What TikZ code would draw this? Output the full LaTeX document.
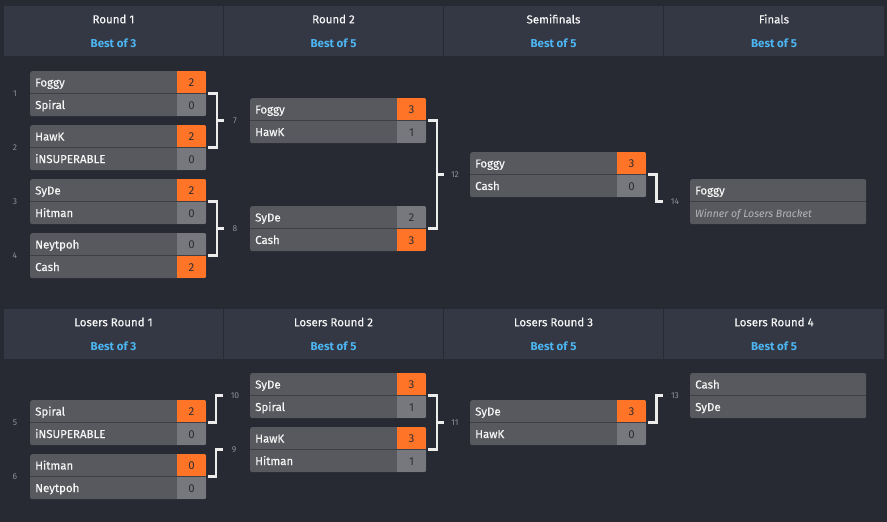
\documentclass[tikz,border=0pt]{standalone}
\usepackage{fontspec}
\setmainfont{Fira Sans}
\newfontfamily\medfont{Fira Sans}[FakeBold=0.35]
\usetikzlibrary{calc}
\definecolor{bgc}{HTML}{272A33}
\definecolor{hdrc}{HTML}{343844}
\definecolor{rowc}{HTML}{58595E}
\definecolor{scorec}{HTML}{77787D}
\definecolor{winc}{HTML}{FF7427}
\definecolor{sepc}{HTML}{3E3F45}
\definecolor{bestc}{HTML}{4DB6F2}
\definecolor{lblc}{HTML}{8D909A}
\definecolor{connc}{HTML}{ECECEC}
\definecolor{scoretxt}{HTML}{2E2E33}
\definecolor{namec}{HTML}{F6F6F6}
\definecolor{subc}{HTML}{B4B5BA}
\tikzset{
  matchn/.style={draw=none,fill=rowc,rounded corners=2pt,minimum width=176pt,minimum height=45pt,inner sep=0pt,anchor=north west},
  player/.style={anchor=base west,inner sep=0pt,text=namec,font=\medfont\fontsize{11.5}{13}\selectfont},
  subtxt/.style={anchor=base west,inner sep=0pt,text=subc,font=\fontsize{10.5}{13}\selectfont\itshape},
  scoretext/.style={anchor=base,inner sep=0pt,text=scoretxt,font=\fontsize{11.5}{13}\selectfont},
  num/.style={inner sep=0pt,text=lblc,font=\fontsize{8.5}{10}\selectfont},
  hdrtitle/.style={inner sep=0pt,text=namec,font=\medfont\fontsize{11.5}{13}\selectfont},
  hdrbest/.style={inner sep=0pt,text=bestc,font=\fontsize{11.5}{13}\selectfont\bfseries},
  bracket/.style={draw=connc,line width=2.5pt,line join=miter},
  sepline/.style={draw=sepc,line width=1pt}
}
% #1 name, #2 x, #3 top, #4 p1, #5 s1, #6 col1, #7 p2, #8 s2, #9 col2
\newcommand{\matchbox}[9]{%
  \node[matchn] (#1) at (#2,#3) {};
  \begin{scope}
    \clip[rounded corners=2pt] (#2,#3) rectangle ++(176,45);
    \fill[#6] (#2+147,#3) rectangle ++(29,22.5);
    \fill[#9] (#2+147,#3+22.5) rectangle ++(29,22.5);
  \end{scope}
  \draw[sepline] (#2,#3+22.5) -- ++(176,0);
  \node[player] (#1-a) at (#2+5,#3+15.5) {#4};
  \node[player] (#1-b) at (#2+5,#3+38) {#7};
  \node[scoretext] (#1-sa) at (#2+161.5,#3+15.5) {#5};
  \node[scoretext] (#1-sb) at (#2+161.5,#3+38) {#8};
}
% plain two-row box: #1 name, #2 x, #3 top, #4 row1, #5 row2 node
\newcommand{\plainbox}[5]{%
  \node[matchn] (#1) at (#2,#3) {};
  \draw[sepline] (#2,#3+22.5) -- ++(176,0);
  \node[player] (#1-a) at (#2+5,#3+15.5) {#4};
  #5
}
\begin{document}
\begin{tikzpicture}[x=1pt,y=-1pt]
\fill[bgc] (0,0) rectangle (887,522);
\useasboundingbox (0,0) rectangle (887,522);

% ---------- Winners header ----------
\foreach \xa/\xb/\t/\b [count=\i] in {4/223/Round 1/Best of 3,224/443/Round 2/Best of 5,444/663/Semifinals/Best of 5,664/884/Finals/Best of 5}{
  \fill[hdrc] (\xa,6) rectangle (\xb,56);
  \node[hdrtitle] (wt\i) at ({(\xa+\xb)/2},19) {\t};
  \node[hdrbest] (wb\i) at ({(\xa+\xb)/2},43.5) {\b};
}
% ---------- Losers header ----------
\foreach \xa/\xb/\t/\b [count=\i] in {4/223/Losers Round 1/Best of 3,224/443/Losers Round 2/Best of 5,444/663/Losers Round 3/Best of 5,664/884/Losers Round 4/Best of 5}{
  \fill[hdrc] (\xa,309) rectangle (\xb,359);
  \node[hdrtitle] (lt\i) at ({(\xa+\xb)/2},322) {\t};
  \node[hdrbest] (lb\i) at ({(\xa+\xb)/2},346.5) {\b};
}

% ---------- Winners bracket ----------
\matchbox{m1}{30}{71}{Foggy}{2}{winc}{Spiral}{0}{scorec}
\matchbox{m2}{30}{125}{HawK}{2}{winc}{iNSUPERABLE}{0}{scorec}
\matchbox{m3}{30}{179}{SyDe}{2}{winc}{Hitman}{0}{scorec}
\matchbox{m4}{30}{233}{Neytpoh}{0}{scorec}{Cash}{2}{winc}
\matchbox{m7}{250}{98}{Foggy}{3}{winc}{HawK}{1}{scorec}
\matchbox{m8}{250}{206}{SyDe}{2}{scorec}{Cash}{3}{winc}
\matchbox{m12}{470}{152}{Foggy}{3}{winc}{Cash}{0}{scorec}
\plainbox{m14}{690}{179}{Foggy}{\node[subtxt] (m14-b) at (695,217) {Winner of Losers Bracket};}

\node[num] (n1) at (15,94) {1};
\node[num] (n2) at (15,148) {2};
\node[num] (n3) at (15,202) {3};
\node[num] (n4) at (15,256) {4};
\node[num] (n7) at (235,121) {7};
\node[num] (n8) at (235,229) {8};
\node[num] (n12) at (455,175) {12};
\node[num] (n14) at (675,202) {14};

\coordinate (j7) at (217,120.5);
\coordinate (j8) at (217,228.5);
\coordinate (j12) at (437,174.5);
\coordinate (j14) at (656.5,201.5);
\draw[bracket] ([xshift=2pt]m1.east) -| (j7) |- ([xshift=2pt]m2.east);
\draw[bracket] (j7) -- ++(7,0);
\draw[bracket] ([xshift=2pt]m3.east) -| (j8) |- ([xshift=2pt]m4.east);
\draw[bracket] (j8) -- ++(7,0);
\draw[bracket] ([xshift=2pt]m7.east) -| (j12) |- ([xshift=2pt]m8.east);
\draw[bracket] (j12) -- ++(7,0);
\draw[bracket] ([xshift=2pt]m12.east) -| (j14) -- ++(6.5,0);

% ---------- Losers bracket ----------
\matchbox{m5}{30}{400}{Spiral}{2}{winc}{iNSUPERABLE}{0}{scorec}
\matchbox{m6}{30}{454}{Hitman}{0}{winc}{Neytpoh}{0}{scorec}
\matchbox{m10}{250}{373}{SyDe}{3}{winc}{Spiral}{1}{scorec}
\matchbox{m9}{250}{427}{HawK}{3}{winc}{Hitman}{1}{scorec}
\matchbox{m11}{470}{400}{SyDe}{3}{winc}{HawK}{0}{scorec}
\plainbox{m13}{690}{373}{Cash}{\node[player] (m13-b) at (695,411) {SyDe};}

\node[num] (n5) at (15,423) {5};
\node[num] (n6) at (15,477) {6};
\node[num] (n10) at (235,396) {10};
\node[num] (n9) at (234,450) {9};
\node[num] (n11) at (455,423) {11};
\node[num] (n13) at (675,396) {13};

\coordinate (j10) at (216,395.5);
\coordinate (j9) at (216,449.5);
\coordinate (j11) at (437,422.5);
\coordinate (j13) at (656.5,395.5);
\draw[bracket] ([xshift=2pt]m5.east) -| (j10) -- ++(7,0);
\draw[bracket] ([xshift=2pt]m6.east) -| (j9) -- ++(7,0);
\draw[bracket] ([xshift=2pt]m10.east) -| (j11) |- ([xshift=2pt]m9.east);
\draw[bracket] (j11) -- ++(7,0);
\draw[bracket] ([xshift=2pt]m11.east) -| (j13) -- ++(6.5,0);
\end{tikzpicture}
\end{document}
